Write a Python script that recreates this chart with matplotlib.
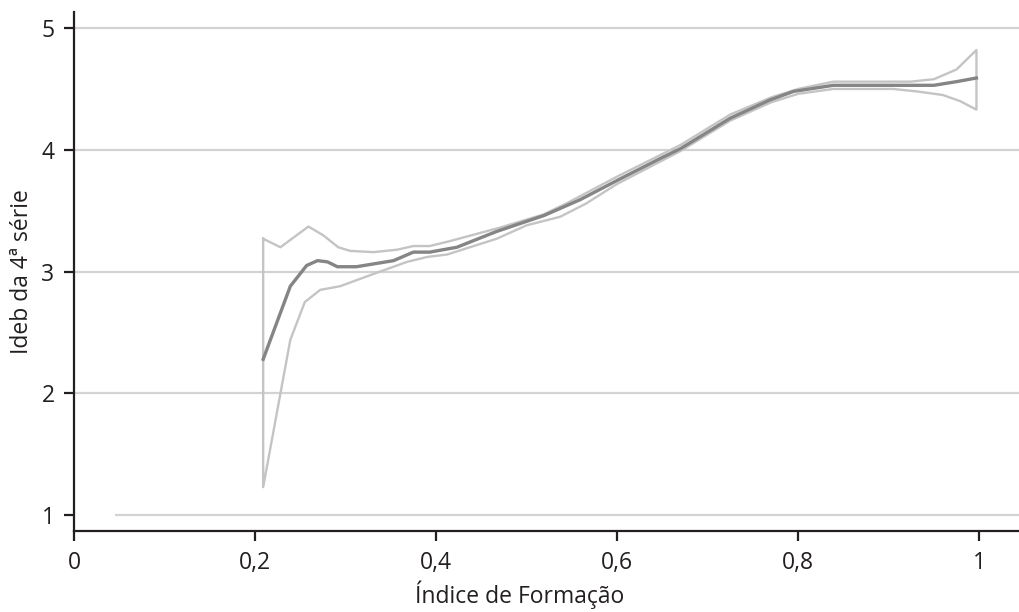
import matplotlib
matplotlib.use('Agg')
import matplotlib.pyplot as plt

plt.rcParams['font.family'] = ['Open Sans', 'DejaVu Sans']

# linha central (estimativa)
x_mid = [0.209, 0.239, 0.257, 0.269, 0.28, 0.291, 0.312, 0.353, 0.375, 0.393, 0.423, 0.467,
         0.519, 0.559, 0.603, 0.648, 0.67, 0.725, 0.769, 0.795, 0.839, 0.95, 0.975, 0.997]
y_mid = [2.28, 2.88, 3.05, 3.09, 3.08, 3.04, 3.04, 3.09, 3.16, 3.16, 3.20, 3.33,
         3.46, 3.59, 3.76, 3.93, 4.01, 4.26, 4.41, 4.48, 4.53, 4.53, 4.56, 4.59]

# limite superior
x_up = [0.209, 0.228, 0.259, 0.275, 0.292, 0.305, 0.331, 0.357, 0.375, 0.393, 0.415, 0.47,
        0.519, 0.544, 0.60, 0.67, 0.725, 0.77, 0.80, 0.839, 0.924, 0.95, 0.975, 0.997]
y_up = [3.27, 3.20, 3.37, 3.30, 3.20, 3.17, 3.16, 3.18, 3.21, 3.21, 3.25, 3.36,
        3.47, 3.56, 3.78, 4.04, 4.29, 4.43, 4.50, 4.56, 4.56, 4.58, 4.66, 4.82]

# limite inferior
x_lo = [0.209, 0.239, 0.255, 0.272, 0.294, 0.338, 0.368, 0.39, 0.412, 0.467, 0.50, 0.537,
        0.566, 0.60, 0.67, 0.725, 0.77, 0.80, 0.839, 0.905, 0.931, 0.96, 0.979, 0.997]
y_lo = [1.23, 2.44, 2.75, 2.85, 2.88, 3.0, 3.08, 3.12, 3.14, 3.27, 3.38, 3.45,
        3.56, 3.72, 3.99, 4.24, 4.39, 4.46, 4.50, 4.50, 4.48, 4.45, 4.40, 4.33]

x_ticks = [0, 0.2, 0.4, 0.6, 0.8, 1]
x_labels = ['0', '0,2', '0,4', '0,6', '0,8', '1']
y_ticks = [1, 2, 3, 4, 5]

fig = plt.figure(figsize=(10.19, 6.12), dpi=100)
ax = fig.add_axes([0.0726, 0.132, 0.9274, 0.848])
ax.set_xlim(0, 1.044)
ax.set_ylim(0.868, 5.13)

for y in y_ticks[1:]:
    ax.axhline(y, color='#d3d3d3', lw=1.6, zorder=1)
ax.hlines(1, 0.045, 1.044, color='#d3d3d3', lw=1.6, zorder=1)

# contorno da faixa
bx = x_up + x_lo[::-1] + [x_up[0]]
by = y_up + y_lo[::-1] + [y_up[0]]
ax.plot(bx, by, color='#c4c4c4', lw=1.7, zorder=2)
ax.plot(x_mid, y_mid, color='#858585', lw=2.4, zorder=3)

ax.spines['top'].set_visible(False)
ax.spines['right'].set_visible(False)
for s in ['left', 'bottom']:
    ax.spines[s].set_linewidth(1.6)
    ax.spines[s].set_color('#231f20')

ax.set_xticks(x_ticks)
ax.set_xticklabels(x_labels)
ax.set_yticks(y_ticks)
ax.tick_params(direction='out', length=7, width=1.6, colors='#231f20',
               labelsize=16.5, pad=7)
ax.set_xlabel('Índice de Formação', fontsize=16.5, color='#231f20', labelpad=4)
ax.xaxis.label.set_x(0.472)
ax.set_ylabel('Ideb da 4ª série', fontsize=16.5, color='#231f20', labelpad=5)

fig.savefig('out.png', dpi=100)
